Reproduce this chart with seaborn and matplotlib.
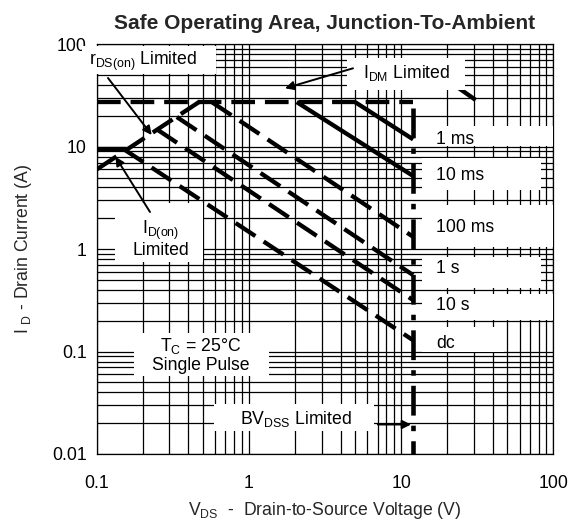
import matplotlib
matplotlib.use("Agg")
import matplotlib.pyplot as plt
import seaborn as sns
import pandas as pd
from matplotlib.ticker import LogLocator, FixedLocator, FixedFormatter, NullFormatter
from matplotlib.patches import Rectangle

# ---------------- data ----------------
x_ticks = [0.1, 1, 10, 100]
x_tick_labels = ["0.1", "1", "10", "100"]
y_ticks = [0.01, 0.1, 1, 10, 100]
y_tick_labels = ["0.01", "0.1", "1", "10", "100"]

idm_v = [0.1, 12.0]
idm_i = [27.3, 27.3]
bv_v = [12.0, 12.0]
bv_i = [24.0, 0.01]
idon_v = [0.1, 0.155]
idon_i = [9.6, 9.6]
rds_v = [0.1, 0.47]
rds_i = [6.0, 27.3]
ms1_v = [4.98, 12.0]
ms1_i = [27.3, 11.8]
ms10_v = [2.06, 12.0]
ms10_i = [27.3, 5.18]
ms100_v = [0.57, 12.0]
ms100_i = [27.3, 1.32]
s1_v = [0.336, 12.0]
s1_i = [19.5, 0.558]
s10_v = [0.25, 12.0]
s10_i = [14.7, 0.318]
dc_v = [0.15, 12.0]
dc_i = [9.5, 0.129]
extra_v = [24.0, 30.9]
extra_i = [37.2, 28.6]

pulse_labels = ["1 ms", "10 ms", "100 ms", "1 s", "10 s", "dc"]

# ---------------- style ----------------
sns.set_theme(style="white")
plt.rcParams["font.family"] = ["Liberation Sans", "DejaVu Sans"]
plt.rcParams["mathtext.fontset"] = "custom"
plt.rcParams["mathtext.rm"] = "Liberation Sans"
plt.rcParams["mathtext.it"] = "Liberation Sans:italic"
plt.rcParams["mathtext.bf"] = "Liberation Sans:bold"

FS = 12.7
W, H = 574, 523
fig = plt.figure(figsize=(W / 100, H / 100), dpi=100)
AX_L, AX_R, AX_T, AX_B = 96.7, 553.3, 44.3, 454.0
ax = fig.add_axes([AX_L / W, 1 - AX_B / H, (AX_R - AX_L) / W, (AX_B - AX_T) / H])


def fx(px):
    return (px - AX_L) / (AX_R - AX_L)


def fy(py):
    return (AX_B - py) / (AX_B - AX_T)


LW = 3.1
DASH = (0, (5.5, 2.3))

def draw(v, i, ls, lw=LW, cap="butt"):
    df = pd.DataFrame({"V": v, "I": i})
    sns.lineplot(data=df, x="V", y="I", ax=ax, sort=False, estimator=None,
                 color="black", linewidth=lw, linestyle=ls,
                 solid_capstyle=cap, dash_capstyle="butt", zorder=2)

draw(idm_v, idm_i, DASH)
draw(bv_v, bv_i, (0, (6.5, 2.2, 1.2, 2.2)), lw=3.3)
draw(idon_v, idon_i, "-")
draw(rds_v, rds_i, DASH)
draw(ms1_v, ms1_i, "-")
draw(ms10_v, ms10_i, "-")
draw(ms100_v, ms100_i, DASH)
draw(s1_v, s1_i, DASH)
draw(s10_v, s10_i, DASH)
draw(dc_v, dc_i, DASH)
draw(extra_v, extra_i, "-")

ax.set_xscale("log")
ax.set_yscale("log")
ax.set_xlim(0.1, 100)
ax.set_ylim(0.01, 100)
ax.xaxis.set_major_locator(FixedLocator(x_ticks))
ax.xaxis.set_major_formatter(FixedFormatter(x_tick_labels))
ax.yaxis.set_major_locator(FixedLocator(y_ticks))
ax.yaxis.set_major_formatter(FixedFormatter(y_tick_labels))
ax.xaxis.set_minor_locator(LogLocator(base=10, subs=range(2, 10), numticks=20))
ax.yaxis.set_minor_locator(LogLocator(base=10, subs=range(2, 10), numticks=20))
ax.xaxis.set_minor_formatter(NullFormatter())
ax.yaxis.set_minor_formatter(NullFormatter())
ax.grid(True, which="both", color="black", linewidth=0.9)
ax.set_axisbelow(True)
ax.tick_params(which="both", length=0)
ax.tick_params(axis="x", pad=15, labelsize=FS, colors="black")
ax.tick_params(axis="y", pad=7, labelsize=FS, colors="black")
for s in ax.spines.values():
    s.set_color("black")
    s.set_linewidth(0.9)
ax.set_xlabel("")
ax.set_ylabel("")

# white label boxes (px in the figure)
boxes = [
    (82, 46, 216, 74),      # rDS(on)
    (347, 58, 465, 90),     # IDM
    (115, 203, 203, 262),   # ID(on)
    (134, 333, 269, 376),   # TC
    (214, 404, 374, 431),   # BVDSS
    (422, 126, 553.3, 146),   # 1 ms
    (422, 158, 541, 190),   # 10 ms
    (422, 205, 553.3, 247),   # 100 ms
    (422, 257, 541, 288),   # 1 s
    (422, 294, 553.3, 320),   # 10 s
    (422, 327, 504, 352),   # dc
]
for (x0, y0, x1, y1) in boxes:
    ax.add_patch(Rectangle((fx(x0), fy(y1)), fx(x1) - fx(x0), fy(y0) - fy(y1),
                           transform=ax.transAxes, facecolor="white",
                           edgecolor="none", zorder=3, clip_on=False))

tkw = dict(transform=ax.transAxes, fontsize=FS, color="black", zorder=5)
ax.text(fx(143), fy(61), r"r$_{\mathrm{DS(on)}}$ Limited", ha="center", va="center", **tkw)
ax.text(fx(407), fy(73), r"I$_{\mathrm{DM}}$ Limited", ha="center", va="center", **tkw)
ax.text(fx(161), fy(239), "I$_{\\mathrm{D(on)}}$\nLimited", ha="center", va="center",
        linespacing=1.0, **tkw)
ax.text(fx(201), fy(355), "T$_{\\mathrm{C}}$ = 25\u00b0C\nSingle Pulse", ha="center",
        va="center", linespacing=1.05, **tkw)
ax.text(fx(296), fy(419), r"BV$_{\mathrm{DSS}}$ Limited", ha="center", va="center", **tkw)
label_y = [140, 176, 227.3, 268.3, 306, 343.3]
for lab, py in zip(pulse_labels, label_y):
    ax.text(fx(436), fy(py), lab, ha="left", va="center", **tkw)

akw = dict(arrowstyle="-|>", color="black", lw=1.4, mutation_scale=13,
           shrinkA=0, shrinkB=0)
arrows = [
    ((108, 78), (151.7, 135)),
    ((353, 68.3), (285, 88.3)),
    ((150, 212), (115.4, 156.7)),
    ((377.8, 424.5), (411, 424.5)),
]
for (t, h) in arrows:
    ax.annotate("", xy=(fx(h[0]), fy(h[1])), xytext=(fx(t[0]), fy(t[1])),
                xycoords="axes fraction", textcoords="axes fraction",
                arrowprops=akw, zorder=4, annotation_clip=False)

fig.text(325 / W, 1 - 29.3 / H, "Safe Operating Area, Junction-To-Ambient",
         ha="center", va="baseline", fontsize=15, fontweight="bold")
fig.text(325 / W, 1 - 515 / H, r"V$_{\mathrm{DS}}$  -  Drain-to-Source Voltage (V)",
         ha="center", va="baseline", fontsize=FS)
fig.text(24 / W, 1 - 249 / H, r"I $_{\mathrm{D}}$ - Drain Current (A)",
         ha="center", va="center", rotation=90, fontsize=FS)

fig.savefig("out.png", dpi=100, facecolor="white")
